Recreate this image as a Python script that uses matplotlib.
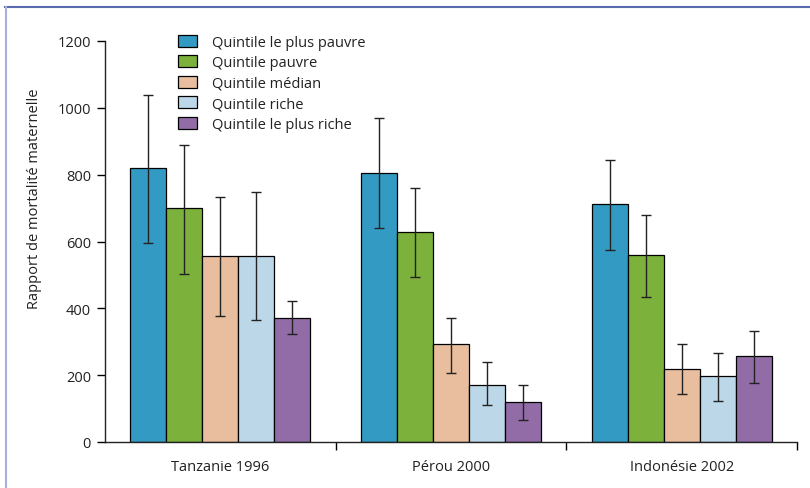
import matplotlib
matplotlib.use("Agg")
import matplotlib.pyplot as plt
from matplotlib.lines import Line2D
import numpy as np

plt.rcParams['font.family'] = ['Open Sans', 'DejaVu Sans']

groups = ["Tanzanie 1996", "Pérou 2000", "Indonésie 2002"]
series = ["Quintile le plus pauvre", "Quintile pauvre", "Quintile médian",
          "Quintile riche", "Quintile le plus riche"]
colors = ["#339bc3", "#7cb13c", "#e8be9e", "#bcd7e8", "#926ca6"]

values = [
    [819, 805, 711],
    [699, 629, 560],
    [556, 292, 217],
    [556, 171, 197],
    [372, 119, 256],
]
err_high = [
    [1038, 970, 845],
    [890, 760, 679],
    [734, 372, 292],
    [747, 238, 266],
    [422, 171, 332],
]
err_low = [
    [595, 640, 574],
    [503, 493, 435],
    [377, 207, 145],
    [364, 110, 123],
    [323, 65, 176],
]
yticks = [0, 200, 400, 600, 800, 1000, 1200]

W, H = 810, 489
fig = plt.figure(figsize=(W / 100, H / 100), dpi=100)
ax = fig.add_axes([105 / W, (H - 443) / H, 692 / W, 401 / H])

x = np.arange(len(groups))
bw = 36 / 231
for i, (name, col) in enumerate(zip(series, colors)):
    xs = x + (i - 2) * bw
    vals = np.array(values[i])
    lo = vals - np.array(err_low[i])
    hi = np.array(err_high[i]) - vals
    ax.bar(xs, vals, width=bw, color=col, edgecolor="black", linewidth=0.9,
           label=name, zorder=2)
    ax.errorbar(xs, vals, yerr=[lo, hi], fmt="none", ecolor="#222222",
                elinewidth=1.0, capsize=3.6, capthick=1.0, zorder=3)

ax.set_xlim(-0.5, 2.5)
ax.set_ylim(0, 1200)
ax.set_yticks(yticks)
ax.set_yticklabels([str(t) for t in yticks], fontsize=10.5, color="#222222")
ax.tick_params(axis="y", direction="out", length=6, width=1.0, pad=4)

ax.set_xticks([0.5, 1.5, 2.5])
ax.set_xticklabels([])
ax.tick_params(axis="x", direction="out", length=6, width=1.0)
for xi, g in zip(x, groups):
    ax.text(xi, -0.06, g, transform=ax.get_xaxis_transform(), ha="center",
            va="center", fontsize=10.5, color="#222222")

for s in ["top", "right"]:
    ax.spines[s].set_visible(False)
for s in ["left", "bottom"]:
    ax.spines[s].set_linewidth(1.0)
    ax.spines[s].set_color("#222222")

ax.set_ylabel("Rapport de mortalité maternelle", fontsize=10.5, color="#222222")
ax.yaxis.set_label_coords(-0.091, 0.61)

leg = ax.legend(loc="upper left", bbox_to_anchor=(0.1055, 1.016), frameon=False,
                fontsize=10.5, handlelength=1.3, handleheight=0.9,
                handletextpad=1.0, labelspacing=0.37, borderpad=0,
                borderaxespad=0)
for t in leg.get_texts():
    t.set_color("#222222")

# figure frame lines (top and left)
fig.add_artist(Line2D([5 / W, 1], [1 - 8 / H, 1 - 8 / H], transform=fig.transFigure,
                      color="#5a6ab0", linewidth=1.5))
fig.add_artist(Line2D([6 / W, 6 / W], [0, 1 - 8 / H], transform=fig.transFigure,
                      color="#a8b0d8", linewidth=1.5))

fig.savefig("out.png", dpi=100)
